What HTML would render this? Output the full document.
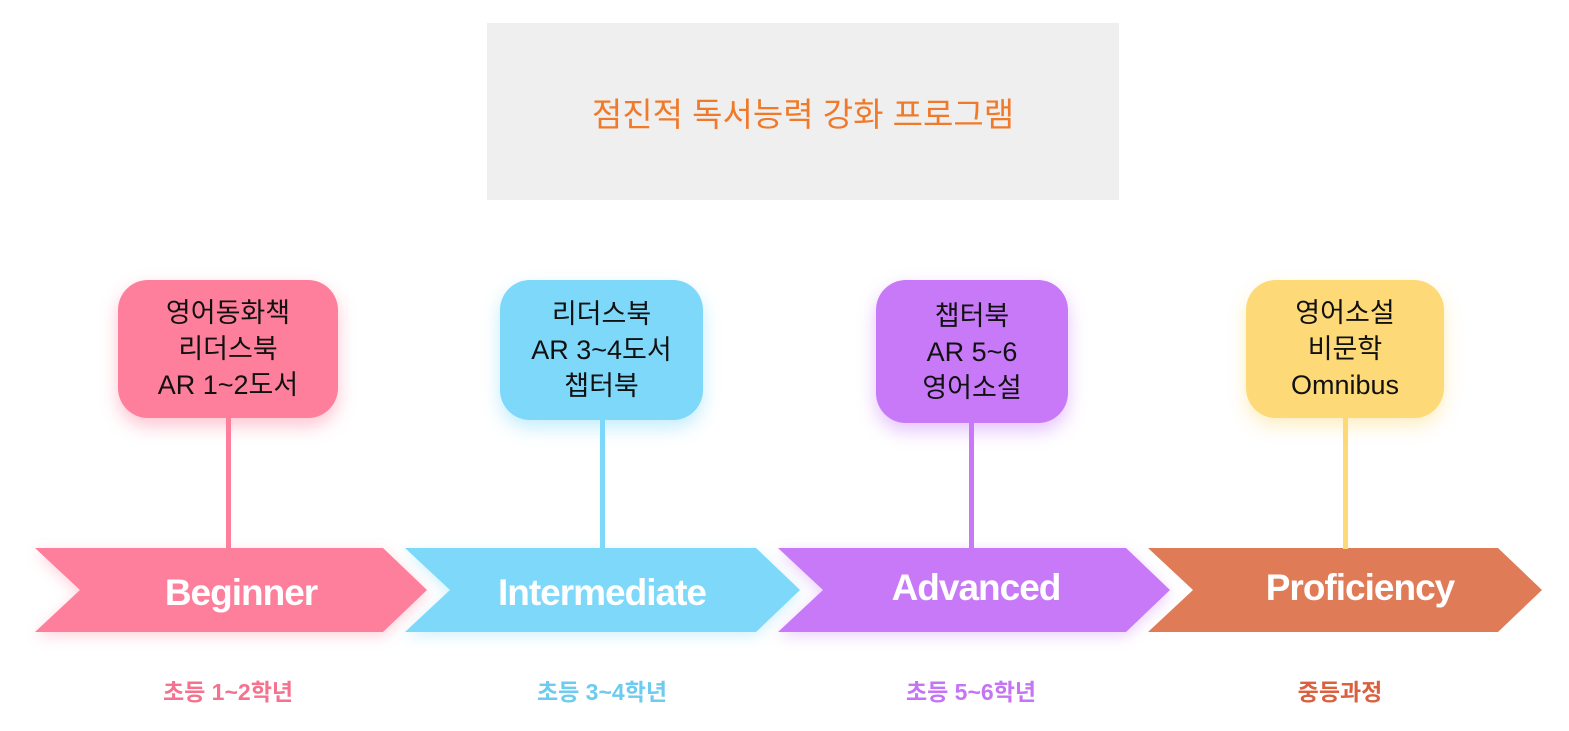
<!DOCTYPE html>
<html><head><meta charset="utf-8"><style>
body{margin:0;width:1569px;height:731px;background:#fff;position:relative;overflow:hidden;font-family:"Liberation Sans","Noto Sans CJK KR",sans-serif}
.t{position:absolute;left:487px;top:23px;width:632px;height:177px;background:#efefef;display:flex;align-items:center;justify-content:center;color:#f07a2a;font-size:33px}
.b{position:absolute;border-radius:30px;display:flex;align-items:center;justify-content:center;text-align:center;font-size:27px;line-height:36px;color:#111}
.l{position:absolute;width:5px}
.g{position:absolute;top:673px;width:240px;text-align:center;font-size:23px;font-weight:bold}
</style></head><body>
<div class="t">점진적 독서능력 강화 프로그램</div>
<svg width="1569" height="731" style="position:absolute;left:0;top:0">
<defs><filter id="f" x="-20%" y="-40%" width="140%" height="180%"><feGaussianBlur stdDeviation="7"/></filter></defs>
<g opacity="0.35" filter="url(#f)">
<polygon points="35,552 383,552 427,594 383,636 35,636 80,594" fill="#fe7f9c"/>
<polygon points="405,552 756,552 800,594 756,636 405,636 450,594" fill="#7dd8f9"/>
<polygon points="778,552 1126,552 1170,594 1126,636 778,636 823,594" fill="#c879f8"/>
</g>
<polygon points="35,548 383,548 427,590 383,632 35,632 80,590" fill="#fe7f9c"/>
<polygon points="405,548 756,548 800,590 756,632 405,632 450,590" fill="#7dd8f9"/>
<polygon points="778,548 1126,548 1170,590 1126,632 778,632 823,590" fill="#c879f8"/>
<polygon points="1148,548 1498,548 1542,590 1498,632 1148,632 1193,590" fill="#e07b58"/>
<g fill="#fff" font-weight="bold" font-size="37" text-anchor="middle" font-family="Liberation Sans,sans-serif" letter-spacing="-1">
<text x="241" y="605">Beginner</text>
<text x="602" y="605">Intermediate</text>
<text x="976" y="600">Advanced</text>
<text x="1360" y="600">Proficiency</text>
</g>
</svg>
<div class="l" style="left:226px;top:415px;height:134px;background:#fe7f9c"></div>
<div class="l" style="left:600px;top:418px;height:131px;background:#7dd8f9"></div>
<div class="l" style="left:969px;top:420px;height:129px;background:#c879f8"></div>
<div class="l" style="left:1343px;top:415px;height:134px;background:#fdd977"></div>
<div class="b" style="left:118px;top:280px;width:220px;height:138px;background:#fe7f9c;box-shadow:0 8px 18px rgba(254,127,156,.45)">영어동화책<br>리더스북<br>AR 1~2도서</div>
<div class="b" style="left:500px;top:280px;width:203px;height:140px;background:#7dd8f9;box-shadow:0 8px 18px rgba(125,216,249,.45)">리더스북<br>AR 3~4도서<br>챕터북</div>
<div class="b" style="left:876px;top:280px;width:192px;height:143px;background:#c879f8;box-shadow:0 8px 18px rgba(200,121,248,.45)">챕터북<br>AR 5~6<br>영어소설</div>
<div class="b" style="left:1246px;top:280px;width:198px;height:138px;background:#fdd977;box-shadow:0 8px 18px rgba(253,217,119,.45)">영어소설<br>비문학<br>Omnibus</div>
<div class="g" style="left:108px;color:#f5728f">초등 1~2학년</div>
<div class="g" style="left:482px;color:#6ccbee">초등 3~4학년</div>
<div class="g" style="left:851px;color:#c574f5">초등 5~6학년</div>
<div class="g" style="left:1220px;color:#d9613f">중등과정</div>
</body></html>
